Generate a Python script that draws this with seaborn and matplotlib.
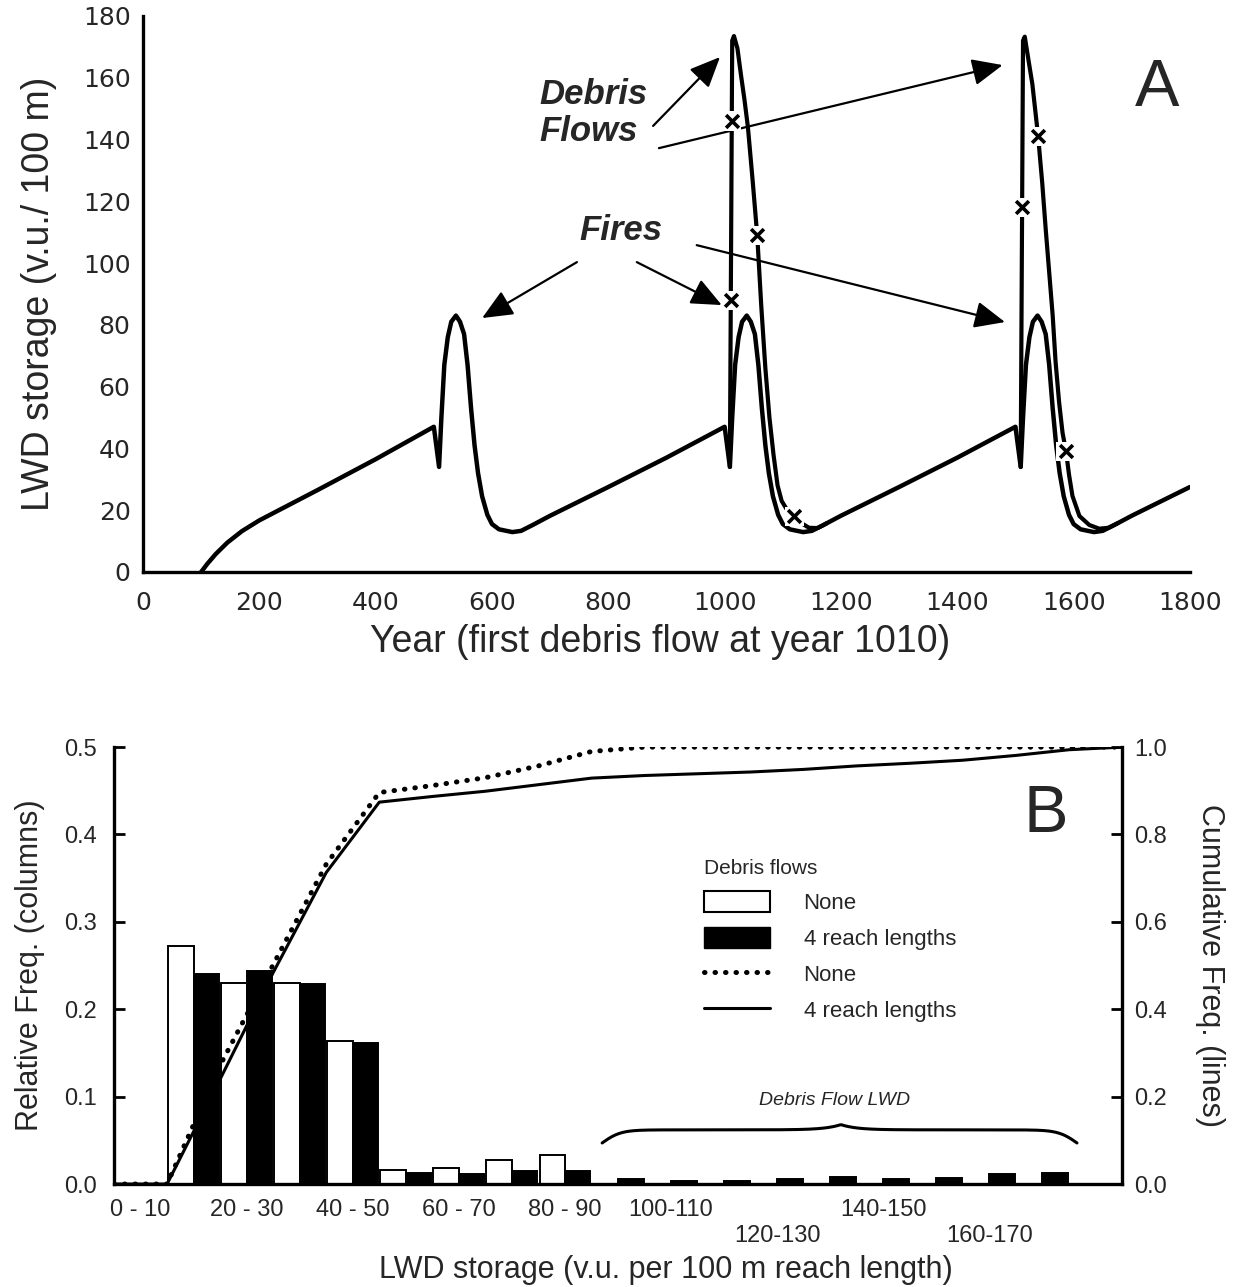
import numpy as np
import pandas as pd
import matplotlib
matplotlib.use("Agg")
import matplotlib.pyplot as plt
import seaborn as sns
from matplotlib.patches import Patch
from matplotlib.lines import Line2D

sns.set_theme(style="white")
plt.rcParams['font.family'] = ['Liberation Sans', 'DejaVu Sans']

# ---------------- Panel A data ----------------
years_base = [100, 110, 125, 145, 170, 200, 300, 400, 500,
              509, 513, 518, 524, 530, 538, 545, 552, 558, 564, 570, 576, 583, 592, 600, 612, 635, 650, 670, 700, 800, 900, 1000,
              1009, 1013, 1018, 1024, 1030, 1038, 1045, 1052, 1058, 1064, 1070, 1076, 1083, 1092, 1100, 1112, 1135, 1150, 1170, 1200, 1300, 1400, 1500,
              1509, 1513, 1518, 1524, 1530, 1538, 1545, 1552, 1558, 1564, 1570, 1576, 1583, 1592, 1600, 1612, 1635, 1650, 1670, 1700, 1800]
storage_base = [0, 2.5, 5.8, 9.5, 13.2, 16.7, 26.5, 36.5, 47,
                34, 50, 67, 76, 81, 83, 81, 77, 67, 53, 41, 32, 24.5, 18.5, 15.5, 13.8, 12.9, 13.3, 15.2, 18.2, 27.5, 37, 47,
                34, 50, 67, 76, 81, 83, 81, 77, 67, 53, 41, 32, 24.5, 18.5, 15.5, 13.8, 12.9, 13.3, 15.2, 18.2, 27.5, 37, 47,
                34, 50, 67, 76, 81, 83, 81, 77, 67, 53, 41, 32, 24.5, 18.5, 15.5, 13.8, 12.9, 13.3, 15.2, 18.2, 27.5]

years_df1 = [1009, 1013, 1016, 1022, 1028, 1034, 1040, 1048, 1056, 1063, 1070, 1077, 1084, 1091, 1098, 1106, 1114, 1122, 1132, 1145, 1160, 1175]
storage_df1 = [34, 172, 173.5, 169.5, 161, 153, 144, 127, 109, 86, 66, 50, 38, 28, 23, 20.5, 19, 17.5, 15.8, 14.3, 14.2, 15.7]

years_df2 = [1509, 1513, 1516, 1523, 1529, 1539, 1546, 1552, 1558, 1564, 1569, 1575, 1581, 1587, 1592, 1598, 1610, 1627, 1644, 1660, 1675]
storage_df2 = [34, 172, 173.3, 165, 158, 141, 126, 111, 97, 83, 68, 55, 45, 39, 31.6, 24.6, 18.1, 15.2, 14, 14.3, 15.7]

mark_years = [1012.2, 1010.6, 1056, 1120, 1511.4, 1539, 1587]
mark_storage = [146, 88, 109, 18, 118, 141, 39]

a_xticks = [0, 200, 400, 600, 800, 1000, 1200, 1400, 1600, 1800]
a_yticks = [0, 20, 40, 60, 80, 100, 120, 140, 160, 180]

# ---------------- Panel B data ----------------
bin_centers = [5, 15, 25, 35, 45, 55, 65, 75, 85, 95, 105, 115, 125, 135, 145, 155, 165, 175]
freq_none = [0, 0.272, 0.230, 0.230, 0.164, 0.016, 0.018, 0.027, 0.033,
             0, 0, 0, 0, 0, 0, 0, 0, 0]
freq_debris = [0, 0.240, 0.244, 0.229, 0.161, 0.013, 0.012, 0.015, 0.015,
               0.006, 0.004, 0.004, 0.006, 0.008, 0.006, 0.007, 0.011, 0.013]
bin_edges = [0, 10, 20, 30, 40, 50, 60, 70, 80, 90, 100, 110, 120, 130, 140, 150, 160, 170, 180, 190]
cum_none = [0, 0, 0.272, 0.502, 0.732, 0.896, 0.912, 0.930, 0.957, 0.990, 1.0,
            1.0, 1.0, 1.0, 1.0, 1.0, 1.0, 1.0, 1.0, 1.0]
cum_debris = [0, 0, 0.240, 0.484, 0.713, 0.874, 0.887, 0.899, 0.914, 0.929, 0.935,
              0.939, 0.943, 0.949, 0.957, 0.963, 0.970, 0.981, 0.994, 1.0]
b_label_pos = [5, 25, 45, 65, 85, 105, 125, 145, 165]
b_labels = ['0 - 10', '20 - 30', '40 - 50', '60 - 70', '80 - 90', '100-110', '\n120-130', '140-150', '\n160-170']
scenarios = ['None', '4 reach lengths']

fig = plt.figure(figsize=(12.34, 12.87), dpi=100)

# ================= Panel A =================
axA = fig.add_axes([0.1159, 0.5556, 0.8484, 0.432])
sns.lineplot(x=years_base, y=storage_base, ax=axA, color='black', linewidth=3.2,
             sort=False, estimator=None)
sns.lineplot(x=years_df1, y=storage_df1, ax=axA, color='black', linewidth=3.0,
             sort=False, estimator=None)
sns.lineplot(x=years_df2, y=storage_df2, ax=axA, color='black', linewidth=3.0,
             sort=False, estimator=None)
sns.scatterplot(x=mark_years, y=mark_storage, ax=axA, marker='s', s=190, color='white',
                edgecolor='none', zorder=4)
sns.scatterplot(x=mark_years, y=mark_storage, ax=axA, marker='x', s=85, color='black',
                linewidth=2.6, zorder=5)

axA.set_xlim(0, 1800)
axA.set_ylim(0, 180)
axA.set_xticks(a_xticks)
axA.set_yticks(a_yticks)
axA.set_xticklabels([str(v) for v in a_xticks], family='DejaVu Sans', fontsize=18)
axA.set_yticklabels([str(v) for v in a_yticks], family='DejaVu Sans', fontsize=18)
for s in ['top', 'right']:
    axA.spines[s].set_visible(False)
for s in ['left', 'bottom']:
    axA.spines[s].set_linewidth(2.4)
    axA.spines[s].set_color('black')
axA.tick_params(axis='both', direction='in', length=8, width=2.2, color='black')
axA.tick_params(axis='x', pad=14)
axA.tick_params(axis='y', pad=9)
axA.set_xlabel('Year (first debris flow at year 1010)', fontsize=27)
axA.set_ylabel('LWD storage (v.u./ 100 m)', fontsize=27)
axA.xaxis.set_label_coords(0.494, -0.093)
axA.yaxis.set_label_coords(-0.082, 0.5)

txt_kw = dict(fontsize=25, fontweight='bold', fontstyle='italic')
axA.text(682, 148.6, 'Debris\nFlows', ha='left', va='center', linespacing=1.12, **txt_kw)
axA.text(751, 110.7, 'Fires', ha='left', va='center', **txt_kw)
arrow_kw = dict(arrowstyle='-|>,head_length=0.75,head_width=0.33', color='black', lw=1.6,
                mutation_scale=25, shrinkA=0, shrinkB=0)
for start, tip in [((877, 144.4), (992, 166.7)),
                   ((887, 137.2), (1478, 164.1)),
                   ((746, 100.3), (583, 82.2)),
                   ((849, 100.3), (995, 86.4)),
                   ((952, 105.8), (1482, 80.9))]:
    axA.annotate('', xy=tip, xytext=start, arrowprops=arrow_kw)
axA.text(1743, 156.5, 'A', fontsize=48, ha='center', va='center')

# ================= Panel B =================
axB = fig.add_axes([0.0924, 0.08, 0.8169, 0.3395])
dfb = pd.DataFrame({
    'center': bin_centers * 2,
    'freq': freq_none + freq_debris,
    'scenario': [scenarios[0]] * len(bin_centers) + [scenarios[1]] * len(bin_centers),
})
sns.barplot(data=dfb, x='center', y='freq', hue='scenario', hue_order=scenarios,
            palette=['white', 'black'], native_scale=True, width=0.96, saturation=1,
            edgecolor='black', linewidth=1.4, errorbar=None, legend=False, ax=axB)
axB.set_xlim(0, 190)
axB.set_ylim(0, 0.5)
axB.set_xticks(bin_edges[:-1])
axB.set_xticklabels([''] * (len(bin_edges) - 1))
axB.set_xticks(b_label_pos, minor=True)
axB.set_xticklabels(b_labels, minor=True, fontsize=17)
axB.set_yticks([0, 0.1, 0.2, 0.3, 0.4, 0.5])
axB.set_yticklabels(['0.0', '0.1', '0.2', '0.3', '0.4', '0.5'], fontsize=17)
axB.tick_params(axis='x', which='major', direction='out', length=7, width=2, color='black')
axB.tick_params(axis='x', which='minor', length=0, pad=11)
axB.tick_params(axis='y', direction='in', length=8, width=2, pad=12, color='black')
axB.spines['top'].set_visible(False)
axB.spines['right'].set_visible(False)
for s in ['left', 'bottom']:
    axB.spines[s].set_linewidth(2.4)
    axB.spines[s].set_color('black')
axB.set_xlabel('LWD storage (v.u. per 100 m reach length)', fontsize=22)
axB.set_ylabel('Relative Freq. (columns)', fontsize=22)
axB.xaxis.set_label_coords(0.547, -0.163)
axB.yaxis.set_label_coords(-0.068, 0.5)

ax2 = axB.twinx()
sns.lineplot(x=bin_edges, y=cum_none, ax=ax2, color='black', linewidth=3.6,
             linestyle=(0, (0.1, 2.0)), dash_capstyle='round', estimator=None, sort=False)
sns.lineplot(x=bin_edges, y=cum_debris, ax=ax2, color='black', linewidth=2.2,
             estimator=None, sort=False)
ax2.set_ylim(0, 1.0)
ax2.set_xlim(0, 190)
ax2.set_yticks([0, 0.2, 0.4, 0.6, 0.8, 1.0])
ax2.set_yticklabels(['0.0', '0.2', '0.4', '0.6', '0.8', '1.0'], fontsize=17)
ax2.tick_params(axis='y', direction='in', length=8, width=2, pad=9, color='black')
for s in ['top', 'left', 'bottom']:
    ax2.spines[s].set_visible(False)
ax2.spines['right'].set_linewidth(2.4)
ax2.spines['right'].set_color('black')
ax2.set_ylabel('Cumulative Freq. (lines)', fontsize=22, rotation=270, va='bottom')
ax2.yaxis.set_label_coords(1.072, 0.5)
ax2.grid(False)
axB.grid(False)
axA.grid(False)

# Debris flow brace (annotation)
bx = np.linspace(92, 181.5, 400)
by = (0.047 + 0.015 * np.tanh((bx - 92) / 3.5) * np.tanh((181.5 - bx) / 3.5)
      + 0.006 * np.exp(-np.abs(bx - 137) / 3.0))
axB.plot(bx, by, color='black', lw=2.2)
axB.text(0.715, 0.192, 'Debris Flow LWD', transform=axB.transAxes, fontsize=14,
         fontstyle='italic', ha='center', va='center')
axB.text(0.924, 0.844, 'B', transform=axB.transAxes, fontsize=48, ha='center', va='center')

handles = [Patch(facecolor='white', edgecolor='black', linewidth=1.5),
           Patch(facecolor='black', edgecolor='black'),
           Line2D([], [], color='black', lw=3.6, ls=(0, (0.1, 2.0)), dash_capstyle='round'),
           Line2D([], [], color='black', lw=2.2)]
leg = ax2.legend(handles, ['None', '4 reach lengths', 'None', '4 reach lengths'],
                 title='Debris flows', loc='upper left', bbox_to_anchor=(0.565, 0.79),
                 frameon=False, fontsize=16, title_fontsize=15, handlelength=3.0,
                 handleheight=1.1, handletextpad=1.5, labelspacing=0.58, alignment='left')

fig.savefig('out.png', dpi=100)
